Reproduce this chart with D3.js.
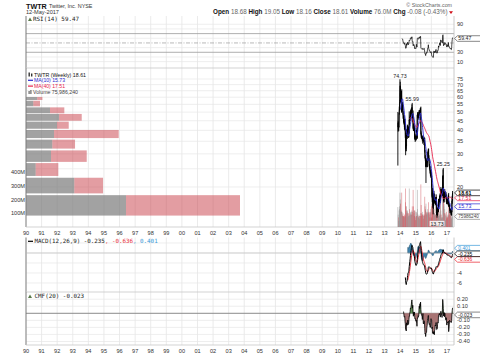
<!DOCTYPE html>
<html><head><meta charset="utf-8">
<script src="https://cdn.jsdelivr.net/npm/d3@7"></script>
<style>
body{margin:0;background:#fff;}
svg{display:block;}
text{font-family:"Liberation Sans",Arial,sans-serif;}
.mono{font-family:"DejaVu Sans Mono",monospace;}
</style></head><body>
<svg id="chart" width="480" height="357"></svg>
<script>
// ---------- DATA (weekly TWTR, Nov 2013 - May 2017) ----------
const highs = [
 50.09,45.0,44.0,42.0,49.5,53.5,57.8,74.73,
 72.5,67.5,59.5,64.0,65.0,66.1,55.5,56.0,56.7,55.0,50.5,48.0,47.5,48.4,46.0,44.0,46.0,42.5,39.0,33.5,33.9,40.5,40.5,39.0,42.9,42.5,42.3,41.8,39.5,40.0,50.5,46.8,45.5,48.0,50.0,51.5,51.6,52.5,52.0,55.0,55.99,48.7,49.0,51.0,42.5,43.5,44.0,42.3,41.8,38.5,38.0,37.4,
 36.9,37.0,40.0,40.0,41.0,48.5,49.8,50.0,50.0,48.6,48.5,51.2,51.1,50.1,51.5,52.6,52.9,53.49,39.5,38.5,37.5,37.0,36.5,37.5,37.5,36.5,36.2,36.0,37.0,36.4,36.5,31.5,29.5,28.6,27.6,27.5,28.0,28.5,28.0,29.0,30.6,31.0,32.0,32.0,29.5,28.4,26.5,26.0,25.8,24.5,24.6,24.5,
 24.0,22.9,20.8,18.7,19.8,17.8,17.0,16.5,18.6,19.1,18.4,18.0,17.7,17.3,17.4,17.7,18.3,17.7,15.2,14.7,14.7,15.6,15.5,15.6,17.3,17.3,17.2,17.2,18.0,18.5,18.3,19.4,20.0,19.6,19.2,19.4,19.6,18.5,22.8,24.8,25.25,19.9,18.2,18.2,18.2,19.5,19.0,18.3,18.6,18.8,18.3,17.5,16.9,
 17.4,17.4,17.1,17.0,18.3,18.6,16.4,16.4,16.1,15.3,15.2,15.4,15.1,15.2,14.6,15.0,16.9,17.9,19.05];
const lows = [
 26.0,39.4,40.0,39.6,41.6,48.5,51.0,57.5,
 60.5,56.3,55.5,57.0,58.0,49.5,50.5,51.5,51.3,48.5,46.0,44.5,43.0,44.0,40.5,40.0,41.5,36.5,29.51,31.0,31.0,33.0,36.0,36.0,37.5,39.0,39.5,36.5,36.5,36.8,38.5,42.8,43.5,44.9,46.5,48.5,47.8,48.0,49.5,50.5,46.5,44.5,46.0,40.5,39.7,39.8,41.5,39.5,36.5,35.5,34.7,35.7,
 35.1,35.7,35.7,38.0,36.5,36.0,46.6,47.0,47.0,46.3,45.5,47.5,48.2,48.5,48.5,50.2,49.8,38.1,36.5,36.8,36.0,35.8,35.0,34.0,35.8,35.2,34.5,33.4,35.5,34.5,30.5,28.3,27.6,25.5,21.01,25.8,25.5,26.7,25.5,25.5,27.4,28.5,29.5,27.8,27.6,25.5,25.0,24.5,23.6,22.8,22.4,23.0,
 22.8,19.9,17.6,16.6,16.7,15.5,14.31,15.3,15.9,17.5,16.8,16.6,16.3,16.2,16.0,16.2,17.0,14.5,14.2,13.73,14.0,14.2,14.8,14.7,14.7,15.9,15.7,16.6,17.0,17.4,16.4,16.6,18.6,18.5,18.5,18.8,18.1,17.8,18.0,22.1,19.3,16.8,16.5,16.6,17.2,17.3,17.7,17.7,17.6,17.7,16.6,16.6,16.2,
 16.3,16.8,16.3,16.0,16.2,15.7,15.8,15.7,15.2,14.5,14.6,14.7,14.6,14.2,14.1,14.1,14.7,16.3,16.9];
const closes = [
 41.65,43.98,40.8,41.57,49.2,52.0,57.0,63.75,
 69.0,57.0,57.5,60.5,64.5,50.2,55.1,54.0,54.0,49.7,46.5,46.0,44.0,45.0,41.7,43.5,41.8,39.0,32.5,32.0,32.9,40.1,36.6,37.8,42.1,39.9,41.5,37.4,38.6,39.4,45.5,44.5,45.4,46.5,49.6,50.5,49.5,51.0,50.5,53.0,47.5,47.0,47.5,41.4,40.9,43.0,42.0,41.5,37.5,36.0,37.1,36.6,
 35.9,36.4,39.9,38.2,36.5,48.0,48.5,48.6,47.9,47.3,47.9,50.2,49.4,49.5,51.3,50.8,52.0,38.9,37.6,37.0,36.6,36.2,35.9,36.9,36.2,35.6,35.5,35.7,36.2,35.0,31.0,28.5,28.5,25.7,27.0,26.5,27.4,27.1,26.9,28.5,29.6,29.8,31.6,28.4,27.6,25.9,26.0,25.3,24.0,23.3,23.4,23.8,
 23.14,20.1,18.0,17.8,16.8,16.0,15.8,15.9,18.4,18.2,17.4,17.7,16.4,17.2,16.7,17.5,17.6,14.6,14.3,14.2,14.3,15.2,15.0,15.2,16.8,16.1,16.9,17.0,17.9,18.0,16.7,19.4,19.5,18.9,18.9,19.1,18.2,18.3,22.5,23.05,19.8,16.9,17.6,17.7,17.5,18.8,18.0,18.0,18.0,18.1,17.3,16.9,16.3,
 17.3,17.1,16.6,16.3,18.0,16.2,16.2,15.9,15.3,15.0,15.1,14.9,14.95,14.4,14.3,14.8,16.5,17.7,18.61];
const volumes = [ // millions of shares per week
 145,90,70,45,120,130,150,250,
 200,170,110,120,110,250,110,80,90,100,80,75,80,75,90,70,80,180,280,150,100,150,120,110,120,100,70,100,80,90,280,130,80,90,100,110,90,110,90,120,150,110,90,270,150,120,100,80,120,120,110,50,
 70,80,110,80,100,270,130,90,80,70,70,90,80,60,80,80,100,310,160,100,80,90,90,110,90,80,60,90,80,90,220,150,120,130,170,110,100,90,100,110,130,100,110,180,100,110,90,70,100,110,130,60,
 70,150,170,150,150,170,250,120,150,130,100,100,80,90,90,90,110,230,150,140,110,110,80,80,200,130,110,80,90,90,170,150,120,90,70,60,70,70,250,250,260,250,150,170,100,130,100,50,90,80,110,70,60,
 90,70,70,80,90,230,120,90,100,100,90,90,90,80,60,70,220,120,76];

// Volume-by-price zones (price low/high) with up (grey) and down (red) volume, millions
const vbpLow  = [58.0,53.7,49.3,45.0,40.8,36.4,32.0,27.2,22.9,18.5,14.1];
const vbpHigh = [60.2,57.5,53.0,48.9,44.5,40.2,35.7,31.3,26.8,22.4,18.1];
const vbpUp   = [280,183,600,825,775,700,658,625,243,1208,2500];
const vbpDown = [130,167,358,568,293,1618,568,893,565,718,2850];

const yearLabels = ["90","91","92","93","94","95","96","97","98","99","00","01","02","03","04","05","06","07","08","09","10","11","12","13","14","15","16","17"];
const priceTicks = [20,25,30,35,40,45,50,55,60,65,70,75];
const volTicks = [100,200,300,400];
const volTickLabels = ["100M","200M","300M","400M"];
const rsiTicks = [10,30,50,70,90];
const macdTicks = [2,0,-2,-4,-6];
const cmfTicks = [0.2,0.1,0,-0.1,-0.2,-0.3,-0.4];
const cmfTickLabels = ["0.20","0.10","0.00","-0.10","-0.20","-0.30","-0.40"];
const peakLabels = [{v:74.73,type:"high"},{v:55.99,type:"high"},{v:25.25,type:"high"},{v:13.73,type:"low"}];
const last = {close:18.61, ma10:15.73, ma40:17.51, vol:75.98624, rsi:59.47, macd:-0.235, signal:-0.636, hist:0.401, cmf:-0.023};

// ---------- LAYOUT ----------
const svg = d3.select("#chart");
const X0 = 26, X1 = 454;
const P = {rsi:[16,68], price:[68,227], macd:[237.5,292], cmf:[292,345]};
const n = closes.length;
const dates = d3.timeFriday.range(new Date(2013,10,8), new Date(2017,4,13)).slice(0,n);
const idx = d3.range(n);

const x = d3.scaleTime().domain([new Date(1990,0,1), new Date(2017,5,15)]).range([X0,X1]);
const yP = d3.scaleLog().domain([12.26, 85.8]).range([227, 68]);
const yV = d3.scaleLinear().domain([0,400]).range([227,172]);
const yR = d3.scaleLinear().domain([0,100]).range([66.3,19.6]);
const yM = d3.scaleLinear().domain([-7.8,3.1]).range([292,237.5]);
const yC = d3.scaleLinear().domain([-0.45,0.302]).range([345,292]);
const xVbp = d3.scaleLinear().domain([0,5350]).range([0,214]);

// ---------- INDICATORS ----------
const sma = k => idx.map(i => i<k-1 ? null : d3.mean(closes.slice(i-k+1,i+1)));
const ma10 = sma(10), ma40 = sma(40);
function ema(vals,k,start){
  const out = new Array(vals.length).fill(null), a = 2/(k+1), s = start+k-1;
  if (s >= vals.length) return out;
  out[s] = d3.mean(vals.slice(start,s+1));
  for (let i=s+1;i<vals.length;i++) out[i] = vals[i]*a + out[i-1]*(1-a);
  return out;
}
const e12 = ema(closes,12,0), e26 = ema(closes,26,0);
const macd = idx.map(i => e26[i]==null ? null : e12[i]-e26[i]);
const sig = ema(macd,9,25);
const hist = idx.map(i => sig[i]==null ? null : macd[i]-sig[i]);
const rsi = new Array(n).fill(null);
{ let ag=0, al=0;
  for (let i=1;i<=14;i++){ const d=closes[i]-closes[i-1]; if(d>0) ag+=d; else al-=d; }
  ag/=14; al/=14; rsi[14] = 100-100/(1+ag/al);
  for (let i=15;i<n;i++){ const d=closes[i]-closes[i-1];
    ag=(ag*13+Math.max(d,0))/14; al=(al*13+Math.max(-d,0))/14;
    rsi[i] = al===0 ? 100 : 100-100/(1+ag/al); } }
const mfv = idx.map(i => { const h=highs[i], l=lows[i], c=closes[i]; return h===l ? 0 : ((c-l)-(h-c))/(h-l)*volumes[i]; });
const cmf = idx.map(i => i<19 ? null : d3.sum(mfv.slice(i-19,i+1))/d3.sum(volumes.slice(i-19,i+1)));

// ---------- GRID / FRAMES ----------
const years = yearLabels.map((_,i)=>new Date(1990+i,0,1));
const grid = svg.append("g");
Object.values(P).forEach(([t,b])=>{
  years.forEach(d=>grid.append("line").attr("x1",x(d)).attr("x2",x(d)).attr("y1",t).attr("y2",b).attr("stroke","#e3e3e3").attr("stroke-width",0.7));
});
[10,20,40,60,80,90].forEach(v=>grid.append("line").attr("x1",X0).attr("x2",X1).attr("y1",yR(v)).attr("y2",yR(v)).attr("stroke","#e6e6e6").attr("stroke-width",0.7));
[30,70].forEach(v=>grid.append("line").attr("x1",X0).attr("x2",X1).attr("y1",yR(v)).attr("y2",yR(v)).attr("stroke","#9a9a9a").attr("stroke-width",0.8));
grid.append("line").attr("x1",X0).attr("x2",X1).attr("y1",yR(50)).attr("y2",yR(50)).attr("stroke","#9a9a9a").attr("stroke-width",0.7).attr("stroke-dasharray","4,1.5,1,1.5");
priceTicks.forEach(v=>grid.append("line").attr("x1",X0).attr("x2",X1).attr("y1",yP(v)).attr("y2",yP(v)).attr("stroke","#e6e6e6").attr("stroke-width",0.7));
macdTicks.forEach(v=>grid.append("line").attr("x1",X0).attr("x2",X1).attr("y1",yM(v)).attr("y2",yM(v)).attr("stroke","#e6e6e6").attr("stroke-width",0.7));
cmfTicks.forEach(v=>grid.append("line").attr("x1",X0).attr("x2",X1).attr("y1",yC(v)).attr("y2",yC(v)).attr("stroke",v===0?"#8a8a8a":"#e6e6e6").attr("stroke-width",v===0?1:0.7));
Object.values(P).forEach(([t,b])=>{
  grid.append("line").attr("x1",X1).attr("x2",X1).attr("y1",t).attr("y2",b).attr("stroke","#bdbdbd").attr("stroke-width",0.8);
  grid.append("line").attr("x1",X0).attr("x2",X0).attr("y1",t).attr("y2",b).attr("stroke","#777").attr("stroke-width",0.9);
  grid.append("line").attr("x1",X0).attr("x2",X1).attr("y1",b).attr("y2",b).attr("stroke","#c8c8c8").attr("stroke-width",0.8);
});

// ---------- PRICE PANEL ----------
const gp = svg.append("g");
vbpLow.forEach((lo,i)=>{
  const yt = yP(vbpHigh[i]), yb = yP(lo);
  gp.append("rect").attr("x",X0).attr("y",yt).attr("width",xVbp(vbpUp[i])).attr("height",yb-yt).attr("fill","#7a7a7a").attr("fill-opacity",0.7);
  gp.append("rect").attr("x",X0+xVbp(vbpUp[i])).attr("y",yt).attr("width",xVbp(vbpDown[i])).attr("height",yb-yt).attr("fill","#c83c46").attr("fill-opacity",0.5);
});
idx.forEach(i=>{
  const up = i===0 || closes[i]>=closes[i-1];
  gp.append("rect").attr("x",x(dates[i])-0.35).attr("width",0.7).attr("y",yV(volumes[i])).attr("height",yV(0)-yV(volumes[i]))
    .attr("fill",up?"#8a8a8a":"#cc4a52").attr("fill-opacity",0.6);
});
idx.forEach(i=>{
  const xi = x(dates[i]);
  gp.append("line").attr("x1",xi).attr("x2",xi).attr("y1",yP(highs[i])).attr("y2",yP(lows[i])).attr("stroke","#000").attr("stroke-width",0.9);
});
gp.append("path").datum(idx).attr("fill","none").attr("stroke","#000").attr("stroke-width",0.9)
  .attr("d", d3.line().x(i=>x(dates[i])).y(i=>yP(closes[i])));
const lineOf = (arr, sc) => d3.line().defined(i=>arr[i]!=null).x(i=>x(dates[i])).y(i=>sc(arr[i]));
gp.append("path").datum(idx).attr("fill","none").attr("stroke","#e8204a").attr("stroke-width",0.9).attr("d",lineOf(ma40,yP));
gp.append("path").datum(idx).attr("fill","none").attr("stroke","#2a2ad0").attr("stroke-width",0.9).attr("d",lineOf(ma10,yP));
peakLabels.forEach(p=>{
  const i = p.type==="high" ? highs.indexOf(p.v) : lows.indexOf(p.v);
  const xi = x(dates[i]);
  const yb = p.type==="high" ? yP(p.v)-1.6 : yP(p.v)+7.8;
  const t = gp.append("text").attr("x",xi).attr("y",yb).attr("text-anchor","middle").attr("font-size",5.3).attr("fill","#222").text(p.v.toFixed(2));
  const bb = t.node().getBBox();
  gp.insert("rect","text:last-child").attr("x",bb.x-0.8).attr("y",bb.y+0.3).attr("width",bb.width+1.6).attr("height",bb.height-0.6).attr("fill","#fff").attr("fill-opacity",0.85);
});

// ---------- RSI ----------
svg.append("path").datum(idx).attr("fill","none").attr("stroke","#000").attr("stroke-width",0.7).attr("d",lineOf(rsi,yR));

// ---------- MACD ----------
const histArea = d3.area().defined(i=>hist[i]!=null).x(i=>x(dates[i])).y0(yM(0)).y1(i=>yM(hist[i]));
svg.append("path").datum(idx).attr("fill","#3f84b0").attr("stroke","#1d4a66").attr("stroke-width",0.5).attr("d",histArea);
svg.append("line").attr("x1",X0).attr("x2",X1).attr("y1",yM(0)).attr("y2",yM(0)).attr("stroke","#bbb").attr("stroke-width",0.6);
svg.append("path").datum(idx).attr("fill","none").attr("stroke","#e8202a").attr("stroke-width",0.9).attr("d",lineOf(sig,yM));
svg.append("path").datum(idx).attr("fill","none").attr("stroke","#000").attr("stroke-width",1).attr("d",lineOf(macd,yM));

// ---------- CMF ----------
const cmfPos = d3.area().defined(i=>cmf[i]!=null).x(i=>x(dates[i])).y0(yC(0)).y1(i=>yC(Math.max(cmf[i],0)));
const cmfNeg = d3.area().defined(i=>cmf[i]!=null).x(i=>x(dates[i])).y0(yC(0)).y1(i=>yC(Math.min(cmf[i],0)));
svg.append("path").datum(idx).attr("fill","#5f8f55").attr("d",cmfPos);
svg.append("path").datum(idx).attr("fill","#a87474").attr("d",cmfNeg);
svg.append("path").datum(idx).attr("fill","none").attr("stroke","#000").attr("stroke-width",0.8).attr("d",lineOf(cmf,yC));

// ---------- VALUE BOX POSITIONS ----------
function spread(ys,gap){
  const order = ys.map((y,i)=>[y,i]).sort((a,b)=>a[0]-b[0]);
  const out = order.map(o=>o[0]);
  for (let k=1;k<out.length;k++) out[k]=Math.max(out[k],out[k-1]+gap);
  const shift = d3.mean(order,o=>o[0]) - d3.mean(out);
  const res = new Array(ys.length);
  order.forEach((o,k)=>res[o[1]]=out[k]+shift);
  return res;
}
const boxRsi = [yR(last.rsi)];
const boxPrice = [yP(last.close), yP(last.ma40), yP(last.ma10), yV(last.vol)];
const boxMacd = spread([yM(last.hist),yM(last.macd),yM(last.signal)],5.6);
const boxCmf = [yC(last.cmf)];
const clear = (y, boxes) => boxes.every(b => Math.abs(b-y) > 5.2);

// ---------- AXIS LABELS ----------
const ax = svg.append("g").attr("font-size",5.6).attr("fill","#333");
[234.8, 353].forEach(yy=>years.forEach((d,i)=>ax.append("text").attr("x",x(d)).attr("y",yy).attr("text-anchor","middle").text(yearLabels[i])));
priceTicks.forEach(v=>{ if (clear(yP(v),boxPrice)) ax.append("text").attr("x",457).attr("y",yP(v)+2).text(v); });
volTicks.forEach((v,i)=>ax.append("text").attr("x",25).attr("y",yV(v)+2).attr("text-anchor","end").text(volTickLabels[i]));
rsiTicks.forEach(v=>{ if (clear(yR(v),boxRsi)) ax.append("text").attr("x",457).attr("y",yR(v)+2).text(v); });
macdTicks.forEach(v=>{ if (clear(yM(v),boxMacd)) ax.append("text").attr("x",457).attr("y",yM(v)+2).text(v); });
cmfTicks.forEach((v,i)=>{ if (clear(yC(v),boxCmf)) ax.append("text").attr("x",457).attr("y",yC(v)+2).text(cmfTickLabels[i]); });

// ---------- VALUE BOXES ----------
function valueBox(y,label,stroke,color,bold,fs){
  const g = svg.append("g");
  g.append("path").attr("d",`M454.5,${y} L457.5,${y-2.8} L481,${y-2.8} L481,${y+2.8} L457.5,${y+2.8} Z`)
    .attr("fill","#fff").attr("stroke",stroke).attr("stroke-width",0.7);
  g.append("text").attr("x",458.3).attr("y",y+1.8).attr("font-size",fs||5.2).attr("fill",color).attr("font-weight",bold?"bold":"normal").text(label);
}
valueBox(boxRsi[0],"59.47","#555","#222",false);
valueBox(boxPrice[3],"75986240","#888","#444",false,4.6);
valueBox(boxPrice[2],"15.73","#2a2ad0","#2a2ad0",false);
valueBox(boxPrice[1],"17.51","#e8204a","#e8204a",false);
valueBox(boxPrice[0],"18.61","#000","#000",true);
valueBox(boxMacd[0],"0.401","#3a9ad8","#3a9ad8",false,4.9);
valueBox(boxMacd[2],"-0.636","#e8202a","#e8202a",false,4.9);
valueBox(boxMacd[1],"-0.235","#000","#000",false,4.9);
valueBox(boxCmf[0],"-0.023","#555","#222",false,4.9);

// ---------- LEGENDS ----------
const lg = svg.append("g");
lg.append("path").attr("d","M28,21 L30,17.5 L32,21 Z").attr("fill","#5a7a4a");
lg.append("text").attr("class","mono").attr("x",33).attr("y",21).attr("font-size",5.9).attr("fill","#222").text("RSI(14) 59.47");
lg.append("rect").attr("x",28.5).attr("y",72.5).attr("width",1.4).attr("height",4).attr("fill","#333");
lg.append("rect").attr("x",31).attr("y",73.5).attr("width",1.4).attr("height",3).attr("fill","#333");
lg.append("text").attr("x",34).attr("y",76.6).attr("font-size",5.8).attr("fill","#111").attr("textLength",52).attr("lengthAdjust","spacingAndGlyphs").text("TWTR (Weekly) 18.61");
lg.append("line").attr("x1",28).attr("x2",33).attr("y1",80.3).attr("y2",80.3).attr("stroke","#2a2ad0").attr("stroke-width",1.2);
lg.append("text").attr("x",34).attr("y",82.2).attr("font-size",5.8).attr("fill","#2a2ad0").attr("textLength",31).attr("lengthAdjust","spacingAndGlyphs").text("MA(10) 15.73");
lg.append("line").attr("x1",28).attr("x2",33).attr("y1",86.1).attr("y2",86.1).attr("stroke","#e8204a").attr("stroke-width",1.2);
lg.append("text").attr("x",34).attr("y",88).attr("font-size",5.8).attr("fill","#e8204a").attr("textLength",31).attr("lengthAdjust","spacingAndGlyphs").text("MA(40) 17.51");
lg.append("rect").attr("x",28.5).attr("y",91).attr("width",1.2).attr("height",3).attr("fill","#666");
lg.append("rect").attr("x",30.3).attr("y",90).attr("width",1.2).attr("height",4).attr("fill","#666");
lg.append("text").attr("x",33).attr("y",94).attr("font-size",5.8).attr("fill","#444").attr("textLength",45).attr("lengthAdjust","spacingAndGlyphs").text("Volume 75,986,240");
lg.append("line").attr("x1",28).attr("x2",33).attr("y1",241.3).attr("y2",241.3).attr("stroke","#000").attr("stroke-width",1.2);
const mt = lg.append("text").attr("class","mono").attr("x",34.5).attr("y",243.3).attr("font-size",5.85);
mt.append("tspan").attr("fill","#222").text("MACD(12,26,9) -0.235");
mt.append("tspan").attr("fill","#e8303a").text(", -0.636");
mt.append("tspan").attr("fill","#3a9ad8").text(", 0.401");
lg.append("path").attr("d","M28,298 L30,294.5 L32,298 Z").attr("fill","#5a7a4a");
lg.append("text").attr("class","mono").attr("x",34.5).attr("y",298.2).attr("font-size",5.9).attr("fill","#222").text("CMF(20) -0.023");

// ---------- HEADER ----------
const hd = svg.append("g");
hd.append("text").attr("x",26).attr("y",8.6).attr("font-size",7.2).attr("font-weight","bold").attr("fill","#111").text("TWTR");
hd.append("text").attr("x",49).attr("y",8.4).attr("font-size",5.4).attr("fill","#333").text("Twitter, Inc.  NYSE");
hd.append("text").attr("x",26).attr("y",14.3).attr("font-size",5.6).attr("fill","#333").text("12-May-2017");
hd.append("text").attr("x",452).attr("y",6.6).attr("text-anchor","end").attr("font-size",5.3).attr("fill","#666").text("© StockCharts.com");
const rh = hd.append("text").attr("x",447.5).attr("y",14.3).attr("text-anchor","end").attr("font-size",6.3);
[["Open","18.68"],["High","19.05"],["Low","18.16"],["Close","18.61"],["Volume","76.0M"],["Chg","-0.08 (-0.43%)"]].forEach(([k,v],i)=>{
  rh.append("tspan").attr("font-weight","bold").attr("fill","#111").text((i?" ":"")+k+" ");
  rh.append("tspan").attr("fill","#666").text(v);
});
hd.append("path").attr("d","M449,11.3 L453,11.3 L451,14 Z").attr("fill","#d0101a");
</script>
</body></html>
